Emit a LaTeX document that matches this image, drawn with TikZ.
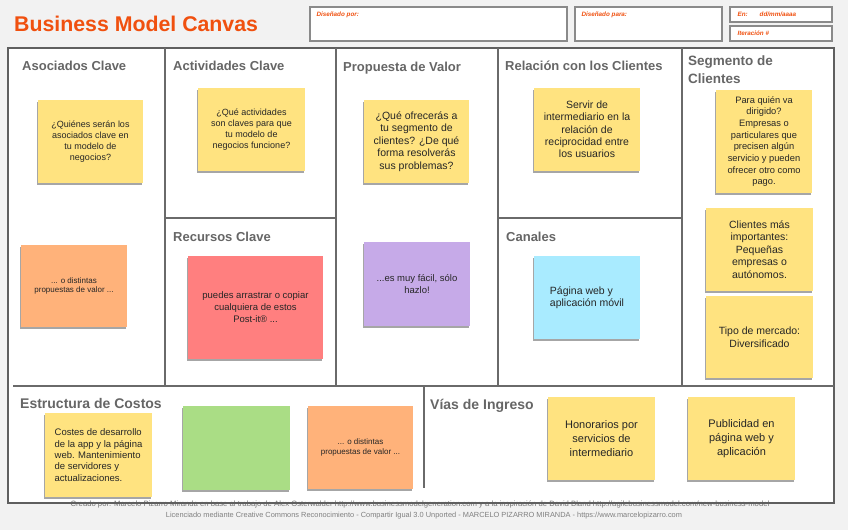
\documentclass[tikz,border=0pt]{standalone}
\usepackage{fontspec}
\setmainfont{Liberation Sans}
\usetikzlibrary{shadows}
\definecolor{bgc}{HTML}{F2F2F2}
\definecolor{orng}{HTML}{F0500F}
\definecolor{framec}{HTML}{6A6A6A}
\definecolor{ttlc}{HTML}{666666}
\definecolor{ylw}{HTML}{FFE380}
\definecolor{org}{HTML}{FFB27A}
\definecolor{rd}{HTML}{FF7F7F}
\definecolor{prp}{HTML}{C6AAE8}
\definecolor{cyn}{HTML}{A9EBFF}
\definecolor{grn}{HTML}{AADD85}
\definecolor{hdrc}{HTML}{8A8A8A}
\tikzset{
  sticky/.style={rectangle, inner sep=3pt, text=black!85,
    drop shadow={shadow xshift=-1.5pt, shadow yshift=-2pt, fill=black, opacity=0.35}},
  cellttl/.style={anchor=base west, inner sep=0pt, text=ttlc, font=\bfseries\fontsize{13}{15.5}\selectfont},
  bigttl/.style={anchor=base west, inner sep=0pt, text=ttlc, font=\bfseries\fontsize{14}{16}\selectfont},
  hdrbox/.style={rectangle, draw=hdrc, line width=1.3pt, fill=white, inner sep=0pt},
  hdrtxt/.style={anchor=north west, inner sep=0pt, text=orng, font=\bfseries\itshape\fontsize{6.3}{7}\selectfont},
  divline/.style={draw=framec, line width=1.6pt},
  foot/.style={inner sep=0pt, text=black!50, font=\fontsize{7.4}{8}\selectfont}
}
\begin{document}
\begin{tikzpicture}[x=1pt,y=-1pt]
\useasboundingbox (0,0) rectangle (848,530);
\fill[bgc] (0,0) rectangle (848,530);
% title
\node[anchor=base west, inner sep=0pt, text=orng, font=\bfseries\fontsize{21.3}{24}\selectfont] (title) at (14,31.5) {Business Model Canvas};
% header boxes
\node[hdrbox, minimum width=257pt, minimum height=34pt] (hpor) at (438.5,24) {};
\node[hdrtxt] (tpor) at ([xshift=7pt,yshift=-5pt]hpor.north west) {Diseñado por:};
\node[hdrbox, minimum width=147pt, minimum height=34pt] (hpara) at (648.5,24) {};
\node[hdrtxt] (tpara) at ([xshift=7pt,yshift=-5pt]hpara.north west) {Diseñado para:};
\node[hdrbox, minimum width=102pt, minimum height=15pt] (hen) at (781,14.5) {};
\node[hdrtxt, anchor=west] (ten) at ([xshift=8pt]hen.west) {En:\hspace{12pt}dd/mm/aaaa};
\node[hdrbox, minimum width=102pt, minimum height=15pt] (hit) at (781,33.5) {};
\node[hdrtxt, anchor=west] (tit) at ([xshift=8pt]hit.west) {Iteración \#};
% canvas
\fill[white] (8,48) rectangle (834,503);
\node[foot, font=\fontsize{7.7}{8}\selectfont, text=black!55] (f1) at (420,504.5) {Creado por: Marcelo Pizarro Miranda en base al trabajo de Alex Osterwalder http://www.businessmodelgeneration.com y a la inspiración de David Bland http://agilebusinessmodel.com/new-business-model};
\node[foot] (f2) at (424,515.5) {Licenciado mediante Creative Commons Reconocimiento - Compartir Igual 3.0 Unported - MARCELO PIZARRO MIRANDA - https://www.marcelopizarro.com};
\draw[draw=framec!90!black, line width=2pt] (8,48) rectangle (834,503);
\draw[divline] (165,48) -- (165,386);
\draw[divline] (336,48) -- (336,386);
\draw[divline] (498,48) -- (498,386);
\draw[divline] (682,48) -- (682,386);
\draw[divline] (165,218) -- (336,218);
\draw[divline] (498,218) -- (682,218);
\draw[divline] (13,386) -- (834,386);
\draw[divline] (424,386) -- (424,488);
% section titles
\node[cellttl] (tasoc) at (22,70) {Asociados Clave};
\node[cellttl] (tact) at (173,70) {Actividades Clave};
\node[cellttl] (tprop) at (343,71) {Propuesta de Valor};
\node[cellttl] (trel) at (505,70) {Relación con los Clientes};
\node[cellttl, anchor=north west, align=left, font=\bfseries\fontsize{13.5}{17.5}\selectfont] (tseg) at (688,56) {Segmento de\\Clientes};
\node[cellttl] (trec) at (173,241) {Recursos Clave};
\node[cellttl] (tcan) at (506,241) {Canales};
\node[bigttl] (tcos) at (20,408.5) {Estructura de Costos};
\node[bigttl] (ting) at (430,409) {Vías de Ingreso};
% sticky notes
\node[sticky, fill=ylw, minimum width=105pt, minimum height=83pt, align=center, font=\fontsize{9}{11}\selectfont] (nasoc) at (90.5,141.5) {¿Quiénes serán los\\asociados clave en\\tu modelo de\\negocios?};
\node[sticky, fill=ylw, minimum width=107pt, minimum height=83pt, align=center, font=\fontsize{9}{11}\selectfont] (nact) at (251.5,129.5) {¿Qué actividades\\son claves para que\\tu modelo de\\negocios funcione?};
\node[sticky, fill=ylw, minimum width=105pt, minimum height=83pt, align=center, font=\fontsize{10.5}{12.4}\selectfont] (nprop) at (416.5,141.5) {¿Qué ofrecerás a\\tu segmento de\\clientes? ¿De qué\\forma resolverás\\sus problemas?};
\node[sticky, fill=ylw, minimum width=106pt, minimum height=83pt, align=center, font=\fontsize{10.5}{12.3}\selectfont] (nrel) at (587,129.5) {Servir de\\intermediario en la\\relación de\\reciprocidad entre\\los usuarios};
\node[sticky, fill=ylw, minimum width=96pt, minimum height=103pt, align=center, font=\fontsize{9.3}{11.7}\selectfont] (nseg1) at (764,141.5) {Para quién va\\dirigido?\\Empresas o\\particulares que\\precisen algún\\servicio y pueden\\ofrecer otro como\\pago.};
\node[sticky, fill=ylw, minimum width=107pt, minimum height=83pt, align=center, font=\fontsize{10.5}{12.5}\selectfont] (nseg2) at (759.5,249.5) {Clientes más\\importantes:\\Pequeñas\\empresas o\\autónomos.};
\node[sticky, fill=ylw, minimum width=107pt, minimum height=82pt, align=center, font=\fontsize{10.5}{12.5}\selectfont] (nseg3) at (759.5,337) {Tipo de mercado:\\Diversificado};
\node[sticky, fill=org, minimum width=106pt, minimum height=82pt, align=center, font=\fontsize{8}{9.5}\selectfont] (nasoc2) at (74,286) {... o distintas\\propuestas de valor ...};
\node[sticky, fill=rd, minimum width=135pt, minimum height=103pt, align=center, font=\fontsize{9.5}{12}\selectfont] (nrec) at (255.5,307.5) {puedes arrastrar o copiar\\cualquiera de estos\\Post-it® ...};
\node[sticky, fill=prp, minimum width=106pt, minimum height=84pt, align=center, font=\fontsize{9.5}{11.5}\selectfont] (nprop2) at (417,284) {...es muy fácil, sólo\\hazlo!};
\node[sticky, fill=cyn, minimum width=106pt, minimum height=83pt, align=left, font=\fontsize{10.5}{12}\selectfont] (ncan) at (587,297.5) {Página web y\\aplicación móvil};
\node[sticky, fill=ylw, minimum width=107pt, minimum height=84pt, align=left, font=\fontsize{9.5}{11.3}\selectfont] (ncos1) at (98.5,455) {Costes de desarrollo\\de la app y la página\\web. Mantenimiento\\de servidores y\\actualizaciones.};
\node[sticky, fill=grn, minimum width=107pt, minimum height=84pt] (ncos2) at (236.5,448) {};
\node[sticky, fill=org, minimum width=105pt, minimum height=83pt, align=center, font=\fontsize{8}{9.5}\selectfont] (ncos3) at (360.5,447.5) {... o distintas\\propuestas de valor ...};
\node[sticky, fill=ylw, minimum width=107pt, minimum height=83pt, align=center, font=\fontsize{11}{14}\selectfont] (ning1) at (601.5,438.5) {Honorarios por\\servicios de\\intermediario};
\node[sticky, fill=ylw, minimum width=107pt, minimum height=83pt, align=center, font=\fontsize{11}{14}\selectfont] (ning2) at (741.5,438.5) {Publicidad en\\página web y\\aplicación};
\end{tikzpicture}
\end{document}
